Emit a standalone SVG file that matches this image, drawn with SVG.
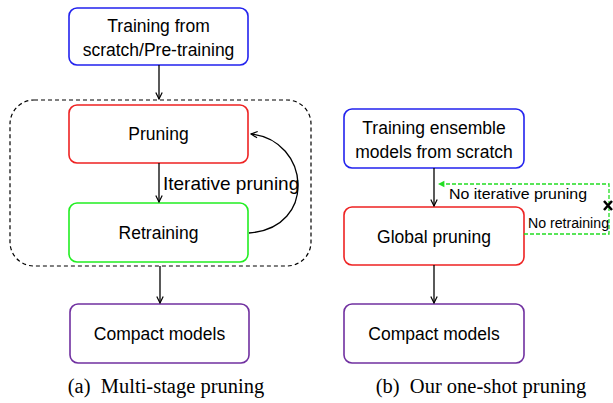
<svg xmlns="http://www.w3.org/2000/svg" width="613" height="403" viewBox="0 0 613 403">
<defs>
<marker id="ah" viewBox="0 0 10 10" refX="9" refY="5" markerWidth="8" markerHeight="8" orient="auto" markerUnits="userSpaceOnUse">
<path d="M1,1 L9,5 L1,9" fill="none" stroke="#000" stroke-width="1.5"/>
</marker>
<marker id="ahg" viewBox="0 0 10 10" refX="9" refY="5" markerWidth="8" markerHeight="8" orient="auto" markerUnits="userSpaceOnUse">
<path d="M1,1 L9,5 L1,9 Z" fill="#22dd22"/>
</marker>
</defs>
<style>
.box{fill:#fff;stroke-width:1.6}
.t{font-family:"Liberation Sans","DejaVu Sans",sans-serif;font-size:17.5px;text-anchor:middle;fill:#000}
.s{font-family:"Liberation Sans","DejaVu Sans",sans-serif;font-size:15px;fill:#000}
.cap{font-family:"Liberation Serif","Times New Roman",serif;font-size:20.5px;text-anchor:middle;fill:#000}
.c{stroke:#000;stroke-width:1.3;fill:none}
</style>
<rect x="0" y="0" width="613" height="403" fill="#fff"/>
<g id="stage-group">
<rect x="10" y="100" width="301" height="166" rx="24" fill="none" stroke="#000" stroke-width="1.2" stroke-dasharray="4,3"/>
</g>
<g id="train-a">
<rect class="box" x="69" y="8" width="179" height="57" rx="8" stroke="#2222ee"/>
<text class="t" x="158.5" y="32">Training from</text>
<text class="t" x="158.5" y="56">scratch/Pre-training</text>
</g>
<g id="pruning-a">
<rect class="box" x="69" y="105" width="179" height="58" rx="8" stroke="#ee2222"/>
<text class="t" x="158.5" y="140">Pruning</text>
</g>
<g id="retraining-a">
<rect class="box" x="69" y="203" width="179" height="59" rx="8" stroke="#22ee22"/>
<text class="t" x="158.5" y="239">Retraining</text>
</g>
<g id="compact-a">
<rect class="box" x="70" y="304" width="179" height="59" rx="8" stroke="#7030a0"/>
<text class="t" x="159.5" y="340">Compact models</text>
</g>
<g id="train-b">
<rect class="box" x="344" y="109" width="180" height="59" rx="8" stroke="#2222ee"/>
<text class="t" x="434" y="134">Training ensemble</text>
<text class="t" x="434" y="158">models from scratch</text>
</g>
<g id="global-b">
<rect class="box" x="344" y="207" width="180" height="58" rx="8" stroke="#ee2222"/>
<text class="t" x="434" y="243">Global pruning</text>
</g>
<g id="compact-b">
<rect class="box" x="344" y="304" width="180" height="59" rx="8" stroke="#7030a0"/>
<text class="t" x="434" y="340">Compact models</text>
</g>
<g id="connectors">
<line class="c" x1="159" y1="65" x2="159" y2="99" marker-end="url(#ah)"/>
<line class="c" x1="159" y1="163" x2="159" y2="202" marker-end="url(#ah)"/>
<line class="c" x1="160" y1="266" x2="160" y2="303" marker-end="url(#ah)"/>
<path class="c" d="M249,233 C318,228 310,140 251,134" marker-end="url(#ah)"/>
<line class="c" x1="434" y1="168" x2="434" y2="206" marker-end="url(#ah)"/>
<line class="c" x1="434" y1="265" x2="434" y2="303" marker-end="url(#ah)"/>
<path d="M524,234 H609 V184 H438" fill="none" stroke="#22dd22" stroke-width="1.3" stroke-dasharray="4,2" marker-end="url(#ahg)"/>
<path d="M604,201 L612,210 M612,201 L604,210" stroke="#000" stroke-width="2.5"/>
</g>
<g id="labels">
<text class="t" x="163" y="190" style="text-anchor:start;font-size:19px">Iterative pruning</text>
<text class="s" x="449" y="199" textLength="138" lengthAdjust="spacingAndGlyphs">No iterative pruning</text>
<text class="s" x="528" y="228" style="font-size:14px" textLength="81" lengthAdjust="spacingAndGlyphs">No retraining</text>
<text class="cap" x="166" y="393">(a)&#160; Multi-stage pruning</text>
<text class="cap" x="481" y="393">(b)&#160; Our one-shot pruning</text>
</g>
</svg>
